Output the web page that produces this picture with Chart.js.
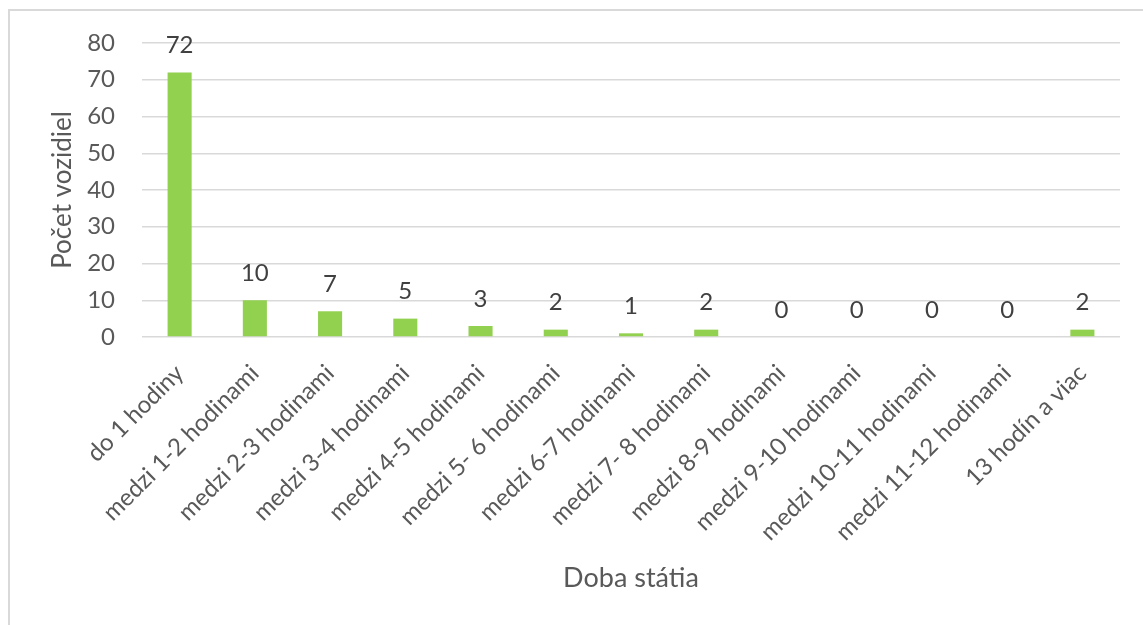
<!DOCTYPE html>
<html>
<head>
<meta charset="utf-8">
<script src="https://cdn.jsdelivr.net/npm/chart.js@4.4.0/dist/chart.umd.min.js"></script>
<style>
  html, body { margin: 0; padding: 0; background: #ffffff; overflow: hidden; }
  #frame { position: absolute; left: 8px; top: 9px; width: 1200px; height: 700px;
           border: 2px solid #d9d9d9; box-sizing: border-box; }
  #wrap { position: absolute; left: 0; top: 0; width: 1143px; height: 625px; }
</style>
</head>
<body>
<div id="frame"></div>
<div id="wrap"><canvas id="c" width="1143" height="625"></canvas></div>
<script>
const categories = [
  "do 1 hodiny",
  "medzi 1-2 hodinami",
  "medzi 2-3 hodinami",
  "medzi 3-4 hodinami",
  "medzi 4-5 hodinami",
  "medzi 5- 6 hodinami",
  "medzi 6-7 hodinami",
  "medzi 7- 8 hodinami",
  "medzi 8-9 hodinami",
  "medzi 9-10 hodinami",
  "medzi 10-11 hodinami",
  "medzi 11-12 hodinami",
  "13 hodín a viac"
];
const vehicleCounts = [72, 10, 7, 5, 3, 2, 1, 2, 0, 0, 0, 0, 2];
const xTitle = "Doba státia";
const yTitle = "Počet vozidiel";
const yMin = 0, yMax = 80, yStep = 10;

const FONT = "Lato, 'Open Sans', sans-serif";

const valueLabels = {
  id: 'valueLabels',
  afterDatasetsDraw(chart) {
    const ctx = chart.ctx;
    const meta = chart.getDatasetMeta(0);
    ctx.save();
    ctx.font = "24px " + FONT;
    ctx.fillStyle = "#404040";
    ctx.textAlign = "center";
    ctx.textBaseline = "middle";
    meta.data.forEach((bar, i) => {
      ctx.fillText(String(vehicleCounts[i]), bar.x, bar.y - 27);
    });
    ctx.restore();
  }
};

new Chart(document.getElementById('c'), {
  type: 'bar',
  data: {
    labels: categories,
    datasets: [{
      data: vehicleCounts,
      backgroundColor: '#92d050',
      borderWidth: 0,
      categoryPercentage: 1,
      barPercentage: 0.32
    }]
  },
  options: {
    responsive: false,
    animation: false,
    devicePixelRatio: 1,
    layout: { padding: { left: 32, right: 23, top: 43, bottom: 20 } },
    plugins: { legend: { display: false }, tooltip: { enabled: false } },
    scales: {
      x: {
        grid: { display: false, drawTicks: false },
        border: { display: false },
        afterFit(scale) { scale.height = 268; scale.paddingLeft = 0; scale.paddingRight = 0; },
        ticks: {
          autoSkip: false, maxRotation: 45, minRotation: 45,
          padding: 22,
          color: '#595959',
          font: { family: FONT, size: 24 }
        },
        title: {
          display: true, text: xTitle, color: '#595959',
          font: { family: FONT, size: 27 },
          padding: { top: 20, bottom: 11 }
        }
      },
      y: {
        min: yMin, max: yMax,
        afterFit(scale) { scale.width = 110; scale.paddingTop = 0; scale.paddingBottom = 0; },
        grid: { color: '#d9d9d9', lineWidth: 1.5, drawTicks: false },
        border: { display: false },
        ticks: {
          stepSize: yStep, padding: 27,
          color: '#595959',
          font: { family: FONT, size: 24 }
        },
        title: {
          display: true, text: yTitle, color: '#595959',
          font: { family: FONT, size: 26 },
          padding: { top: 15, bottom: 11 }
        }
      }
    }
  },
  plugins: [valueLabels]
});
</script>
</body>
</html>
